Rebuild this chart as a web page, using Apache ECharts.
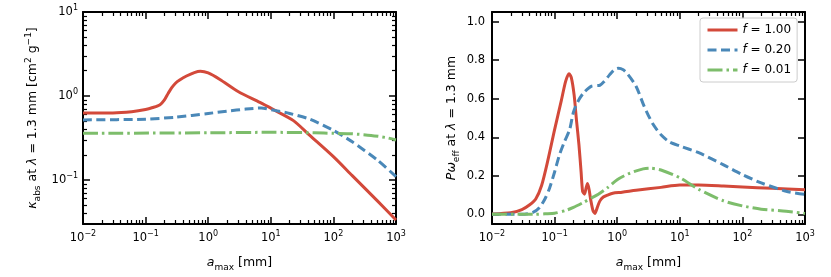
<!DOCTYPE html>
<html><head><meta charset="utf-8">
<script src="https://cdn.jsdelivr.net/npm/echarts@6/dist/echarts.min.js"></script>
<style>html,body{margin:0;padding:0;background:#fff}#c{width:831px;height:277px}</style>
</head><body><div id="c"></div>
<script>
// ---------- data ----------
const seriesNames = ['f=1.00', 'f=0.20', 'f=0.01'];

// left panel: kappa_abs at 1.3 mm
const kapRedA = [0.01,0.03,0.06,0.1,0.13,0.17,0.2,0.23,0.26,0.3,0.35,0.45,0.6,0.75,1.0,1.54,3,6.7,11,23,42,100,200,500,1000];
const kapRedV = [0.63,0.63,0.65,0.69,0.73,0.79,0.9,1.08,1.25,1.42,1.55,1.73,1.9,1.97,1.88,1.57,1.13,0.84,0.69,0.51,0.34,0.19,0.113,0.057,0.0335];
const kapBlueA = [0.01,0.1,0.3,1,2,4,7,11,20,42,100,200,500,1000];
const kapBlueV = [0.52,0.53,0.56,0.62,0.66,0.70,0.72,0.68,0.62,0.53,0.39,0.285,0.174,0.11];
const kapGreenA = [0.01,1,10,50,100,200,400,700,1000];
const kapGreenV = [0.36,0.365,0.37,0.365,0.36,0.355,0.34,0.32,0.30];

// right panel: P*omega_eff at 1.3 mm
const polRedA = [0.01,0.02,0.03,0.04,0.05,0.062,0.078,0.1,0.128,0.15,0.17,0.185,0.205,0.225,0.245,0.265,0.28,0.3,0.32,0.336,0.355,0.38,0.41,0.44,0.48,0.53,0.6,0.7,0.85,1.2,2,5,10,20,50,100,300,1000];
const polRedV = [0.002,0.008,0.025,0.05,0.08,0.15,0.28,0.44,0.59,0.69,0.73,0.71,0.62,0.48,0.36,0.22,0.12,0.105,0.14,0.16,0.13,0.07,0.02,0.005,0.035,0.07,0.09,0.10,0.11,0.115,0.125,0.14,0.152,0.152,0.147,0.142,0.135,0.128];
const polBlueA = [0.01,0.03,0.045,0.057,0.07,0.083,0.1,0.12,0.145,0.174,0.2,0.24,0.29,0.39,0.53,0.62,0.76,0.9,1.05,1.25,1.45,2.0,2.7,3.7,5.1,6.9,10,20,50,100,200,500,1000];
const polBlueV = [0.0,0.0,0.01,0.034,0.08,0.136,0.22,0.31,0.38,0.44,0.53,0.59,0.63,0.665,0.67,0.69,0.725,0.75,0.758,0.75,0.73,0.665,0.56,0.47,0.41,0.375,0.355,0.32,0.257,0.206,0.163,0.12,0.104];
const polGreenA = [0.01,0.05,0.07,0.1,0.15,0.2,0.3,0.4,0.5,0.7,1,1.6,2.6,3.3,5,10,20,50,100,200,500,1000];
const polGreenV = [0.0,0.0,0.003,0.006,0.02,0.036,0.065,0.087,0.104,0.138,0.18,0.214,0.236,0.24,0.23,0.19,0.13,0.07,0.044,0.027,0.016,0.005];

// ticks
const kapTickExps = [-1,0,1];
const kapMin = 0.03, kapMax = 10;
const polTicks = [0.0,0.2,0.4,0.6,0.8,1.0];
const polMin = -0.05, polMax = 1.05;

// ---------- chart ----------
const L = Math.log10;
const FONT = 'DejaVu Sans';
const colors = ['#d3493a', '#4a88b8', '#7dbd6b'];
const dashes = ['solid', [9, 4.5], [15, 4, 2.5, 4]];

function pairsLog(a, v) { return a.map((x, i) => [L(x), L(v[i])]); }
function pairsLin(a, v) { return a.map((x, i) => [L(x), v[i]]); }
function minorLog(lo, hi) {
  const out = [];
  for (let n = Math.floor(lo); n <= Math.ceil(hi); n++)
    for (let k = 2; k <= 9; k++) { const t = n + L(k); if (t > lo + 1e-9 && t < hi - 1e-9) out.push(t); }
  return out;
}
function pow10Label(v) {
  const e = Math.round(v);
  return '{b|10}{sup|' + (e < 0 ? '\u2212' + (-e) : e) + '}';
}
function labelRich() {
  return {
    b: { fontSize: 11.5, fontFamily: FONT, color: '#000', lineHeight: 16 },
    sup: { fontSize: 8, fontFamily: FONT, color: '#000', lineHeight: 9, verticalAlign: 'top' }
  };
}
function nameStyle() {
  return {
    fontSize: 12.5, fontFamily: FONT, color: '#000', lineHeight: 18,
    rich: {
      n: { fontSize: 12.5, fontFamily: FONT, color: '#000', lineHeight: 18 },
      i: { fontSize: 12.5, fontFamily: FONT, color: '#000', fontStyle: 'italic', lineHeight: 18 },
      sub: { fontSize: 9, fontFamily: FONT, color: '#000', lineHeight: 12, verticalAlign: 'bottom' },
      sup: { fontSize: 9, fontFamily: FONT, color: '#000', lineHeight: 11, verticalAlign: 'top' }
    }
  };
}
function tickMajor(custom) {
  const t = { show: true, inside: true, length: 7, lineStyle: { color: '#000', width: 1.5 } };
  if (custom) t.customValues = custom;
  return t;
}
function tickMinor(custom) {
  return { show: true, inside: true, length: 4, customValues: custom, lineStyle: { color: '#000', width: 1.2 } };
}
function lineOn() { return { show: true, onZero: false, lineStyle: { color: '#000', width: 2 } }; }
function lineOff() { return { show: false, onZero: false }; }

const xMinor = minorLog(-2, 3);
function xAx(gi, pos, tick, line, label, extra) {
  return Object.assign({ type: 'value', gridIndex: gi, min: -2, max: 3, interval: 1, position: pos,
    splitLine: { show: false }, axisLine: line, axisTick: tick, axisLabel: label }, extra || {});
}
function makeX(gi) {
  return [
    xAx(gi, 'bottom', tickMajor(), lineOn(),
      { show: true, margin: 6, formatter: pow10Label, rich: labelRich(), fontFamily: FONT, fontSize: 11.5, color: '#000' },
      { name: '{i|a}{sub|max}{n| [mm]}', nameLocation: 'middle', nameGap: 30, nameTextStyle: nameStyle() }),
    xAx(gi, 'bottom', tickMinor(xMinor), lineOff(), { show: false }),
    xAx(gi, 'top', tickMajor(), lineOn(), { show: false }),
    xAx(gi, 'top', tickMinor(xMinor), lineOff(), { show: false })
  ];
}

const kLo = L(kapMin), kHi = L(kapMax);
const kMinor = minorLog(kLo, kHi);
function yAx(gi, lo, hi, pos, tick, line, label, extra) {
  return Object.assign({ type: 'value', gridIndex: gi, min: lo, max: hi, position: pos,
    splitLine: { show: false }, axisLine: line, axisTick: tick, axisLabel: label }, extra || {});
}
function makeYLeft() {
  return [
    yAx(0, kLo, kHi, 'left', tickMajor(kapTickExps), lineOn(),
      { show: true, customValues: kapTickExps, margin: 5, formatter: pow10Label, rich: labelRich(), fontFamily: FONT, fontSize: 11.5, color: '#000' },
      { name: '{i|\u03ba}{sub|abs}{n| at }{i|\u03bb}{n| = 1.3 mm [cm}{sup|2}{n| g}{sup|\u22121}{n|]}',
        nameLocation: 'middle', nameGap: 41, nameTextStyle: nameStyle() }),
    yAx(0, kLo, kHi, 'left', tickMinor(kMinor), lineOff(), { show: false }),
    yAx(0, kLo, kHi, 'right', tickMajor(kapTickExps), lineOn(), { show: false }),
    yAx(0, kLo, kHi, 'right', tickMinor(kMinor), lineOff(), { show: false })
  ];
}
function makeYRight() {
  return [
    yAx(1, polMin, polMax, 'left', tickMajor(polTicks), lineOn(),
      { show: true, customValues: polTicks, margin: 7, formatter: v => v.toFixed(1), fontFamily: FONT, fontSize: 11.5, color: '#000' },
      { name: '{i|P\u03c9}{sub|eff}{n| at }{i|\u03bb}{n| = 1.3 mm}', nameLocation: 'middle', nameGap: 31, nameTextStyle: nameStyle() }),
    yAx(1, polMin, polMax, 'right', tickMajor(polTicks), lineOn(), { show: false })
  ];
}

function line(name, idx, xi, yi, data) {
  return {
    type: 'line', name: name, xAxisIndex: xi, yAxisIndex: yi, data: data,
    symbol: 'none', smooth: 0.25,
    lineStyle: { color: colors[idx], width: 3, type: dashes[idx], cap: 'butt', join: 'round' },
    itemStyle: { color: colors[idx] }
  };
}

const option = {
  animation: false,
  backgroundColor: '#fff',
  grid: [
    { left: 83, top: 12, width: 313, height: 214 },
    { left: 492, top: 12, width: 313, height: 214 }
  ],
  xAxis: makeX(0).concat(makeX(1)),
  yAxis: makeYLeft().concat(makeYRight()),
  legend: {
    data: seriesNames, orient: 'vertical', left: 700, top: 18,
    itemWidth: 30, itemHeight: 12, itemGap: 8,
    padding: [6, 6, 6, 6],
    backgroundColor: 'rgba(255,255,255,0.85)', borderColor: '#cccccc', borderWidth: 1, borderRadius: 3,
    lineStyle: { width: 3 },
    itemStyle: { color: 'rgba(0,0,0,0)', borderWidth: 0, opacity: 0 },
    selectedMode: false,
    formatter: n => '{i|f}{t| = ' + n.split('=')[1] + '}',
    textStyle: {
      fontSize: 12, fontFamily: FONT, color: '#000',
      rich: { i: { fontSize: 12, fontFamily: FONT, fontStyle: 'italic', color: '#000' }, t: { fontSize: 12, fontFamily: FONT, color: '#000' } }
    }
  },
  series: [
    line(seriesNames[0], 0, 0, 0, pairsLog(kapRedA, kapRedV)),
    line(seriesNames[1], 1, 0, 0, pairsLog(kapBlueA, kapBlueV)),
    line(seriesNames[2], 2, 0, 0, pairsLog(kapGreenA, kapGreenV)),
    line(seriesNames[0], 0, 4, 4, pairsLin(polRedA, polRedV)),
    line(seriesNames[1], 1, 4, 4, pairsLin(polBlueA, polBlueV)),
    line(seriesNames[2], 2, 4, 4, pairsLin(polGreenA, polGreenV))
  ]
};
const chart = echarts.init(document.getElementById('c'));
chart.setOption(option);
</script>
</body></html>
